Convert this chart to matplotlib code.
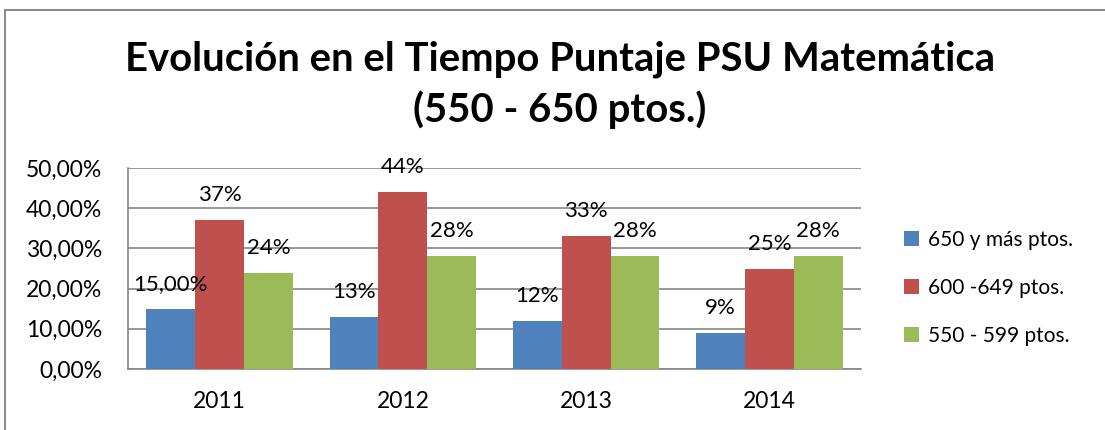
import matplotlib.pyplot as plt
import matplotlib.patches as mpatches
import numpy as np

plt.rcParams['font.family'] = ['Lato', 'DejaVu Sans']

years = ['2011', '2012', '2013', '2014']
series_names = ['650 y más ptos.', '600 -649 ptos.', '550 - 599 ptos.']
s650 = [15, 13, 12, 9]
s600 = [37, 44, 33, 25]
s550 = [24, 28, 28, 28]
labels650 = ['15,00%', '13%', '12%', '9%']
labels600 = ['37%', '44%', '33%', '25%']
labels550 = ['24%', '28%', '28%', '28%']
colors = ['#4F81BD', '#C0504D', '#9BBB59']

fig = plt.figure(figsize=(11.05, 4.3), dpi=100)
ax = fig.add_axes([128 / 1105, 1 - 369 / 430, (861 - 128) / 1105, (369 - 168) / 430])

x = np.arange(len(years))
w = 0.8 / 3
bars = []
for i, (vals, labs) in enumerate(zip([s650, s600, s550], [labels650, labels600, labels550])):
    b = ax.bar(x + (i - 1) * w, vals, w, color=colors[i], label=series_names[i], zorder=3)
    bars.append(b)
    for xi, v, t in zip(x + (i - 1) * w, vals, labs):
        ax.annotate(t, (xi, v), xytext=(0, 18), textcoords='offset points',
                    ha='center', va='center', fontsize=16, zorder=4)

ax.set_xlim(-0.5, 3.5)
ax.set_ylim(0, 50)
ax.set_yticks(range(0, 51, 10))
ax.set_yticklabels(['{},00%'.format(v) for v in range(0, 51, 10)], fontsize=16.5)
ax.set_xticks(x)
ax.set_xticklabels(years, fontsize=16.5)
ax.tick_params(length=0)
ax.tick_params(axis='y', pad=18.5)
ax.tick_params(axis='x', pad=16)
ax.yaxis.grid(True, color='#868686', linewidth=1.2, zorder=0)
for s in ['top', 'right']:
    ax.spines[s].set_visible(False)
for s in ['left', 'bottom']:
    ax.spines[s].set_color('#868686')
    ax.spines[s].set_linewidth(1.2)

fig.legend(handles=bars, labels=series_names, loc='center left',
           bbox_to_anchor=(885 / 1105, 1 - 288 / 430), frameon=False,
           fontsize=15, handlelength=0.75, handleheight=0.75, handletextpad=0.4,
           labelspacing=1.35)

fig.text(560 / 1105, 1 - 59 / 430, 'Evolución en el Tiempo Puntaje PSU Matemática',
         ha='center', va='center', fontsize=28.8, fontweight='bold')
fig.text(560 / 1105, 1 - 110 / 430, '(550 - 650 ptos.)',
         ha='center', va='center', fontsize=28.8, fontweight='bold')

fig.patches.append(mpatches.Rectangle((5 / 1105, -0.1), 1.2, 1 - 10 / 430 + 0.1,
                                      transform=fig.transFigure, fill=False,
                                      edgecolor='#8c8c8c', linewidth=1.5))

fig.savefig('out.png', dpi=100)
